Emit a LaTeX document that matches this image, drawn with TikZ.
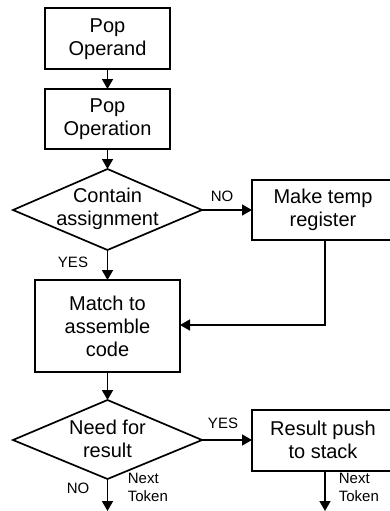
\documentclass[tikz,border=0pt]{standalone}
\usepackage{fontspec}
\setmainfont{Liberation Sans}
\usetikzlibrary{arrows.meta}
\begin{document}
\begin{tikzpicture}[x=1pt,y=-1pt,
  line width=1.7pt,
  boxtext/.style={font=\fontsize{20}{23}\selectfont,align=center,inner sep=0pt},
  lbl/.style={font=\fontsize{15}{18}\selectfont,inner sep=0pt},
  arr/.style={-{Triangle[length=10pt,width=11pt]}}]
\useasboundingbox (0,0) rectangle (390,511);
\clip (0,0) rectangle (390,511);
% boxes
\draw (45,8) rectangle (170,69);
\node[boxtext] (b1) at (107.5,39) {Pop\\Operand};
\coordinate (b1s) at (107.5,69);
\draw (45,89) rectangle (170,149);
\node[boxtext] (b2) at (107.5,119.5) {Pop\\Operation};
\coordinate (b2n) at (107.5,89);
\coordinate (b2s) at (107.5,149);
% diamond 1
\draw (107.5,169) -- (202,210) -- (107.5,250) -- (13,210) -- cycle;
\node[boxtext] (d1) at (107.5,209) {Contain\\assignment};
\coordinate (d1n) at (107.5,169);
\coordinate (d1e) at (202,210);
\coordinate (d1s) at (107.5,250);
% temp register
\draw (252,180) rectangle (396,240);
\node[boxtext] (t) at (323,210) {Make temp\\register};
\coordinate (tw) at (252,210);
\coordinate (ts) at (325,240);
% match box
\draw (35,280) rectangle (180,372);
\node[boxtext] (m) at (107.5,326) {Match to\\assemble\\code};
\coordinate (mn) at (107.5,280);
\coordinate (me) at (180,325);
\coordinate (ms) at (107.5,372);
% diamond 2
\draw (107.5,400) -- (202,440) -- (107.5,479) -- (13,440) -- cycle;
\node[boxtext] (d2) at (107.5,439) {Need for\\result};
\coordinate (d2n) at (107.5,400);
\coordinate (d2e) at (202,440);
\coordinate (d2s) at (107.5,479);
% result box
\draw (252,410) rectangle (396,471);
\node[boxtext] (r) at (323,440) {Result push\\to stack};
\coordinate (rw) at (252,440);
\coordinate (rs) at (325,471);
\coordinate (e1) at (107.5,511);
\coordinate (e2) at (325,511);
% connectors
\draw[arr] (b1s) -- (b2n);
\draw[arr] (b2s) -- (d1n);
\draw[arr] (d1e) -- (tw);
\draw[arr] (d1s) -- (mn);
\draw[arr] (ts) |- (me);
\draw[arr] (ms) -- (d2n);
\draw[arr] (d2e) -- (rw);
\draw[arr] (d2s) -- (e1);
\draw[arr] (rs) -- (e2);
% labels
\node[lbl] (no1) at (222,196) {NO};
\node[lbl] (yes1) at (73,262) {YES};
\node[lbl] (yes2) at (223,423) {YES};
\node[lbl] (no2) at (78,488) {NO};
\node[lbl,anchor=north west,align=left] (nt1) at (127,472) {Next\\Token};
\node[lbl,anchor=north west,align=left] (nt2) at (338,472) {Next\\Token};
\end{tikzpicture}
\end{document}
